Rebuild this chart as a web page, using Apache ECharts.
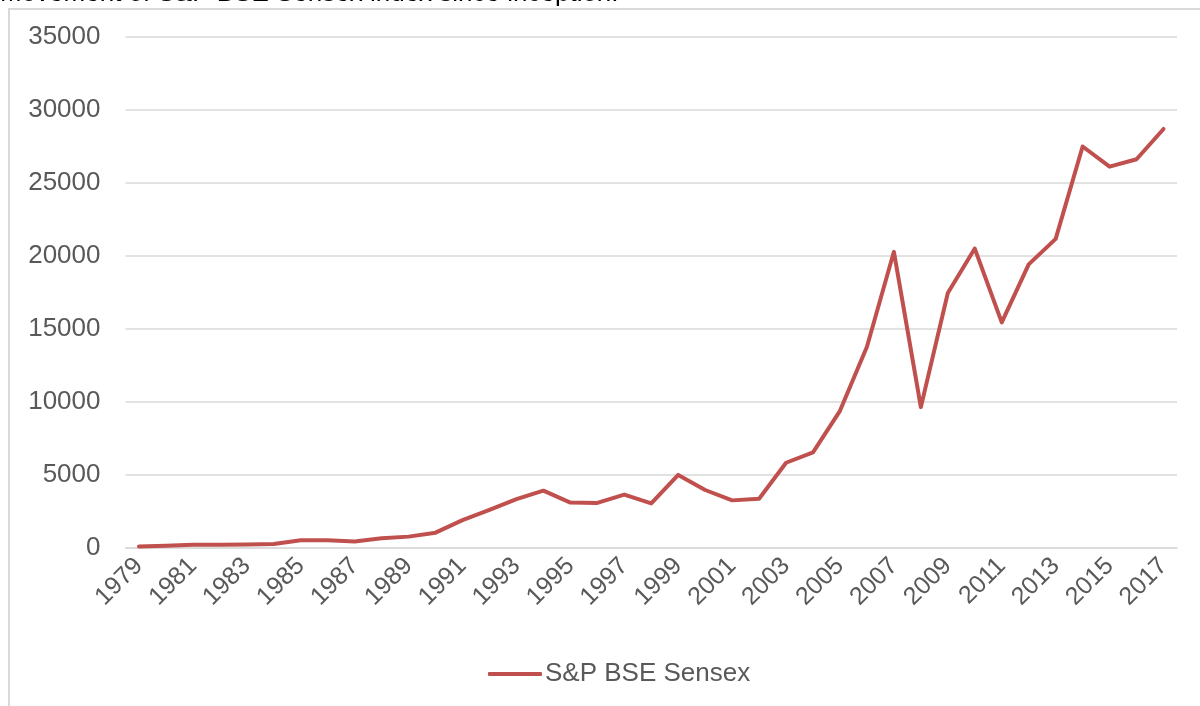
<!DOCTYPE html>
<html>
<head>
<meta charset="utf-8">
<script src="https://cdn.jsdelivr.net/npm/echarts@6/dist/echarts.min.js"></script>
<style>
html,body{margin:0;padding:0;background:#fff;}
#c{width:1200px;height:706px;}
</style>
</head>
<body>
<div id="c"></div>
<script>
const years = ['1979','1980','1981','1982','1983','1984','1985','1986','1987','1988','1989','1990','1991','1992','1993','1994','1995','1996','1997','1998','1999','2000','2001','2002','2003','2004','2005','2006','2007','2008','2009','2010','2011','2012','2013','2014','2015','2016','2017'];
const sensex = [100,148,227,218,245,272,528,524,442,666,779,1049,1909,2615,3346,3927,3111,3085,3659,3055,5006,3973,3262,3377,5839,6550,9398,13787,20287,9647,17465,20509,15455,19427,21171,27499,26118,26626,28700];
const yTicks = {min:0, max:35000, interval:5000};
const seriesName = 'S&P BSE Sensex';
const titleText = 'Movement of S&P BSE Sensex index since inception:';

const FONT = 'Liberation Sans, Arial, sans-serif';
const chart = echarts.init(document.getElementById('c'), null, {renderer:'canvas'});
chart.setOption({
  animation:false,
  backgroundColor:'#ffffff',
  textStyle:{fontFamily:FONT},
  graphic:[
    {type:'rect', shape:{x:9, y:9, width:1250, height:760}, style:{fill:'none', stroke:'#d9d9d9', lineWidth:2}, z:-1},
    {type:'text', left:0, top:-19, style:{text:titleText, font:'26px ' + FONT, fill:'#000'}}
  ],
  grid:{left:125.5, right:23, top:37, bottom:158, containLabel:false},
  legend:{
    left:483, top:656, icon:'roundRect', itemWidth:54, itemHeight:4, itemGap:6,
    textStyle:{fontSize:26, color:'#595959', padding:[0,0,0,-2]},
    data:[seriesName]
  },
  xAxis:{
    type:'category', data:years, boundaryGap:true,
    axisLine:{lineStyle:{color:'#d9d9d9', width:1.5}},
    axisTick:{show:false},
    axisLabel:{rotate:45, interval:1, fontSize:25, color:'#595959', margin:14}
  },
  yAxis:{
    type:'value', min:yTicks.min, max:yTicks.max, interval:yTicks.interval,
    axisLine:{show:false}, axisTick:{show:false},
    axisLabel:{fontSize:26, color:'#595959', margin:25, formatter:function(v){return String(v);}},
    splitLine:{lineStyle:{color:'#d9d9d9', width:1.5}}
  },
  series:[{
    name:seriesName, type:'line', data:sensex, showSymbol:false, symbol:'none',
    lineStyle:{color:'#c0504d', width:4, join:'round', cap:'round'},
    itemStyle:{color:'#c0504d'}
  }]
});
</script>
</body>
</html>
